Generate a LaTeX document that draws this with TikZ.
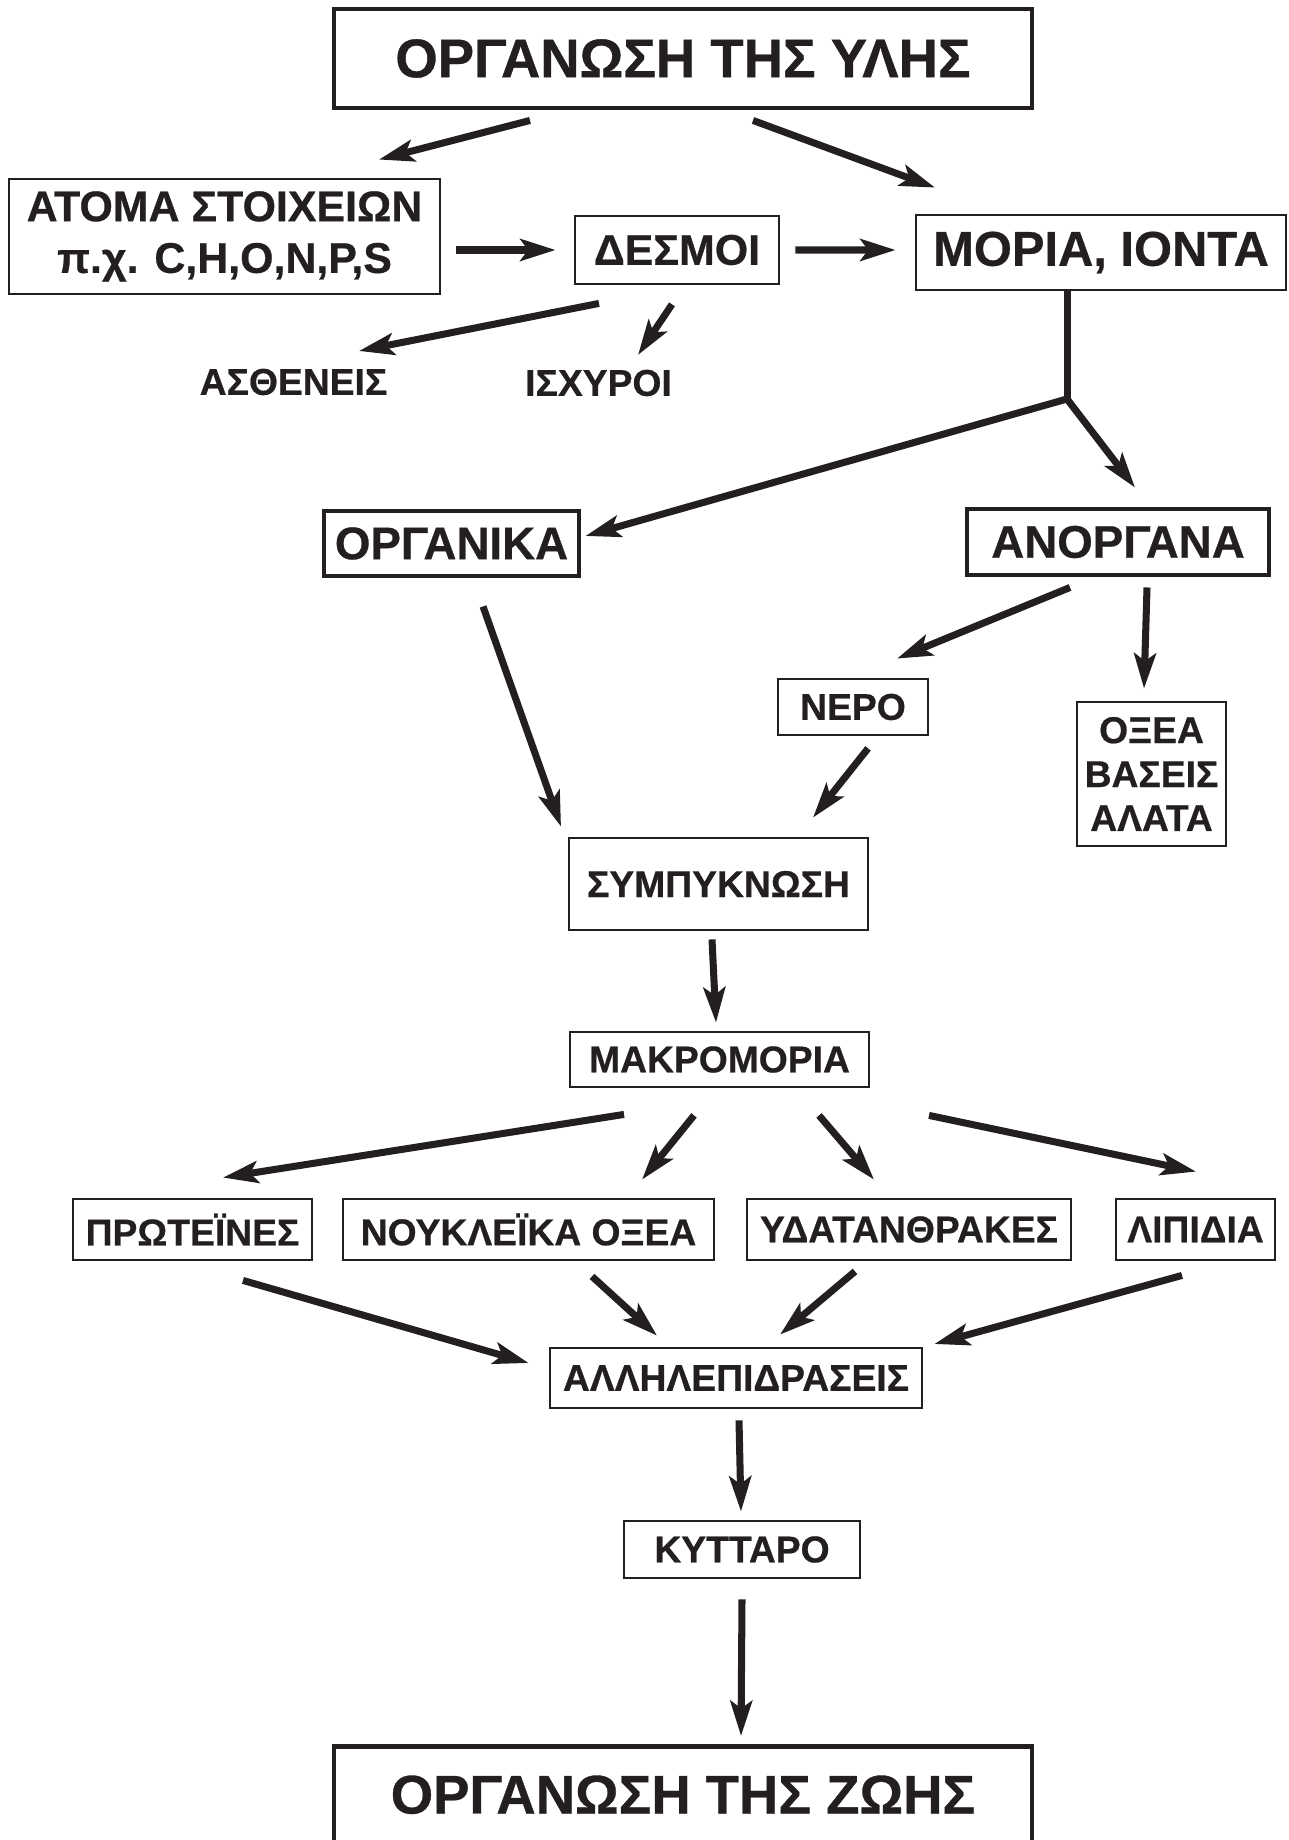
\documentclass[tikz,border=0pt]{standalone}
\usepackage{fontspec}
\setmainfont{Liberation Sans}[BoldFeatures={FakeBold=0.6}]
\usepackage{tikz}
\usetikzlibrary{arrows.meta}
\definecolor{tinta}{RGB}{35, 31, 32}
\tikzset{
    kouti/.style={draw, rectangle, draw=tinta, text=tinta, line width=0.8pt, inner sep=0pt, align=center, font=\fontsize{10.6}{12.5}\selectfont\bfseries},
    koutiMid/.style={kouti, font=\fontsize{12.2}{14.7}\selectfont\bfseries},
    koutiBig/.style={kouti, line width=1.4pt, font=\fontsize{13}{15}\selectfont\bfseries},
    koutiTitle/.style={kouti, line width=1.4pt, font=\fontsize{15.5}{18}\selectfont\bfseries},
    lexi/.style={text=tinta, inner sep=0pt, font=\fontsize{10.6}{12.5}\selectfont\bfseries},
    conn/.style={-{Stealth[length=10pt, width=6.2pt, inset=2.2pt]}, tinta, line width=2pt},
}
\begin{document}
\begin{tikzpicture}
        \useasboundingbox (0,0) rectangle (12.88,-18.40);

        \node [koutiTitle, minimum width=6.98cm, minimum height=0.99cm] (ylh) at (6.83,-0.585) {ΟΡΓΑΝΩΣΗ ΤΗΣ ΥΛΗΣ};
        \node [koutiMid, minimum width=4.31cm, minimum height=1.15cm] (atoma) at (2.245,-2.365) {ΑΤΟΜΑ ΣΤΟΙΧΕΙΩΝ\\π.χ. C,H,O,N,P,S};
        \node [koutiMid, minimum width=2.04cm, minimum height=0.68cm] (desmoi) at (6.77,-2.50) {ΔΕΣΜΟΙ};
        \node [kouti, font=\fontsize{13.9}{16}\selectfont\bfseries, minimum width=3.70cm, minimum height=0.75cm] (moria) at (11.01,-2.525) {ΜΟΡΙΑ, ΙΟΝΤΑ};
        \node [lexi] (asth) at (2.935,-3.82) {ΑΣΘΕΝΕΙΣ};
        \node [lexi] (isx) at (5.985,-3.83) {ΙΣΧΥΡΟΙ};
        \coordinate (split) at (10.67,-3.99);

        \node [koutiBig, minimum width=2.55cm, minimum height=0.65cm] (organ) at (4.515,-5.435) {ΟΡΓΑΝΙΚΑ};
        \node [koutiBig, minimum width=3.02cm, minimum height=0.66cm] (anorg) at (11.18,-5.42) {ΑΝΟΡΓΑΝΑ};
        \node [kouti, minimum width=1.50cm, minimum height=0.56cm] (nero) at (8.53,-7.07) {ΝΕΡΟ};
        \node [kouti, minimum width=1.49cm, minimum height=1.44cm] (oxea) at (11.515,-7.74) {ΟΞΕΑ\\ΒΑΣΕΙΣ\\ΑΛΑΤΑ};
        \node [kouti, minimum width=2.99cm, minimum height=0.92cm] (symp) at (7.185,-8.84) {ΣΥΜΠΥΚΝΩΣΗ};
        \node [kouti, minimum width=2.99cm, minimum height=0.55cm] (makro) at (7.195,-10.595) {ΜΑΚΡΟΜΟΡΙΑ};

        \node [kouti, minimum width=2.39cm, minimum height=0.61cm] (prot) at (1.925,-12.295) {ΠΡΩΤΕΪΝΕΣ};
        \node [kouti, minimum width=3.71cm, minimum height=0.61cm] (nouk) at (5.285,-12.295) {ΝΟΥΚΛΕΪΚΑ ΟΞΕΑ};
        \node [kouti, minimum width=3.24cm, minimum height=0.61cm] (ydat) at (9.09,-12.295) {ΥΔΑΤΑΝΘΡΑΚΕΣ};
        \node [kouti, minimum width=1.59cm, minimum height=0.61cm] (lip) at (11.955,-12.295) {ΛΙΠΙΔΙΑ};
        \node [kouti, minimum width=3.72cm, minimum height=0.60cm] (allil) at (7.36,-13.78) {ΑΛΛΗΛΕΠΙΔΡΑΣΕΙΣ};
        \node [kouti, minimum width=2.36cm, minimum height=0.57cm] (kytt) at (7.42,-15.495) {ΚΥΤΤΑΡΟ};
        \node [koutiTitle, minimum width=6.98cm, minimum height=1.2cm, anchor=north, text height=11.4pt, text depth=7.4pt] (zoh) at (6.83,-17.44) {ΟΡΓΑΝΩΣΗ ΤΗΣ ΖΩΗΣ};

        \draw [conn] ([xshift=-1.53cm, yshift=-0.10cm]ylh.south) -- ([xshift=1.545cm, yshift=0.18cm]atoma.north);
        \draw [conn] ([xshift=0.70cm, yshift=-0.10cm]ylh.south) -- ([xshift=-1.66cm, yshift=0.26cm]moria.north);
        \draw [conn] ([xshift=0.15cm, yshift=-0.135cm]atoma.east) -- ([xshift=-0.18cm]desmoi.west);
        \draw [conn] ([xshift=0.15cm]desmoi.east) -- ([xshift=-0.19cm, yshift=0.025cm]moria.west);
        \draw [conn] ([xshift=-0.78cm, yshift=-0.18cm]desmoi.south) -- ([xshift=0.655cm, yshift=0.31cm]asth.center);
        \draw [conn] ([xshift=-0.05cm, yshift=-0.19cm]desmoi.south) -- ([xshift=0.395cm, yshift=0.28cm]isx.center);

        \draw [tinta, line width=2pt] ([xshift=-0.34cm]moria.south) -- (split);
        \draw [conn, line join=round] (split) -- ([xshift=0.04cm, yshift=0.075cm]organ.east);
        \draw [conn, line join=round] (split) -- ([xshift=0.17cm, yshift=0.19cm]anorg.north);

        \draw [conn] ([xshift=0.315cm, yshift=-0.28cm]organ.south) -- ([xshift=-1.575cm, yshift=0.10cm]symp.north);
        \draw [conn] ([xshift=-0.48cm, yshift=-0.10cm]anorg.south) -- ([xshift=0.44cm, yshift=0.19cm]nero.north);
        \draw [conn] ([xshift=0.29cm, yshift=-0.10cm]anorg.south) -- ([xshift=-0.075cm, yshift=0.12cm]oxea.north);
        \draw [conn] ([xshift=0.15cm, yshift=-0.12cm]nero.south) -- ([xshift=0.945cm, yshift=0.19cm]symp.north);
        \draw [conn] ([xshift=-0.065cm, yshift=-0.08cm]symp.south) -- ([xshift=-0.035cm, yshift=0.08cm]makro.north);

        \draw [conn] ([xshift=-0.955cm, yshift=-0.26cm]makro.south) -- ([xshift=0.305cm, yshift=0.20cm]prot.north);
        \draw [conn] ([xshift=-0.255cm, yshift=-0.27cm]makro.south) -- ([xshift=1.135cm, yshift=0.18cm]nouk.north);
        \draw [conn] ([xshift=0.995cm, yshift=-0.27cm]makro.south) -- ([xshift=-0.35cm, yshift=0.18cm]ydat.north);
        \draw [conn] ([xshift=2.095cm, yshift=-0.27cm]makro.south) -- ([xshift=0.005cm, yshift=0.26cm]lip.north);

        \draw [conn] ([xshift=0.505cm, yshift=-0.19cm]prot.south) -- ([xshift=-0.20cm, yshift=0.15cm]allil.west);
        \draw [conn] ([xshift=0.635cm, yshift=-0.15cm]nouk.south) -- ([xshift=-0.79cm, yshift=0.11cm]allil.north);
        \draw [conn] ([xshift=-0.54cm, yshift=-0.10cm]ydat.south) -- ([xshift=0.44cm, yshift=0.12cm]allil.north);
        \draw [conn] ([xshift=-0.135cm, yshift=-0.14cm]lip.south) -- ([xshift=0.11cm, yshift=0.34cm]allil.east);

        \draw [conn] ([xshift=0.03cm, yshift=-0.11cm]allil.south) -- ([xshift=-0.01cm, yshift=0.08cm]kytt.north);
        \draw [conn] ([yshift=-0.20cm]kytt.south) -- ([xshift=0.58cm, yshift=0.08cm]zoh.north);
    \end{tikzpicture}
\end{document}
